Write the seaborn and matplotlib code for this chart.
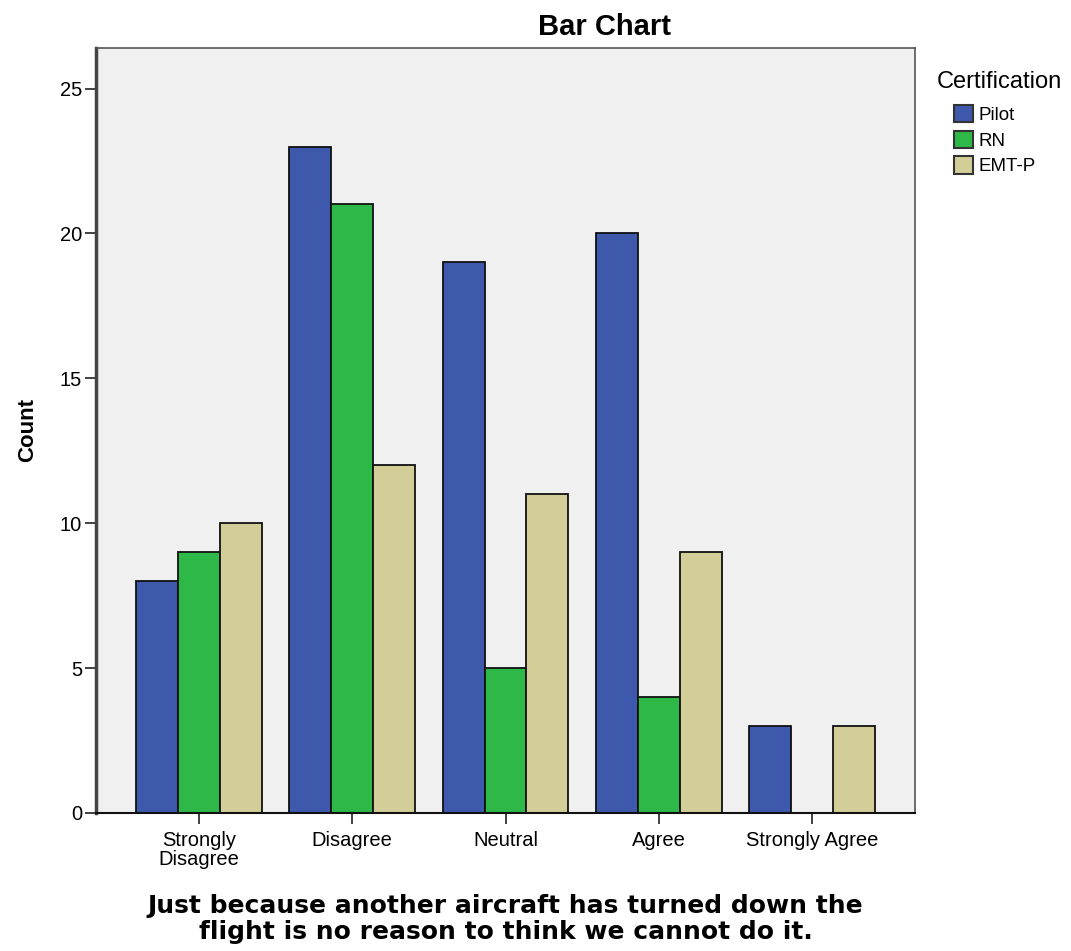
import matplotlib
matplotlib.use('Agg')
import matplotlib.pyplot as plt
import seaborn as sns
import pandas as pd

# data
responses = ['Strongly\nDisagree', 'Disagree', 'Neutral', 'Agree', 'Strongly Agree']
certifications = ['Pilot', 'RN', 'EMT-P']
pilot = [8, 23, 19, 20, 3]
rn = [9, 21, 5, 4, 0]
emt_p = [10, 12, 11, 9, 3]
colors = ['#3E58AC', '#2EB848', '#D3CE97']

df = pd.DataFrame({
    'Response': responses * 3,
    'Certification': ['Pilot'] * 5 + ['RN'] * 5 + ['EMT-P'] * 5,
    'Count': pilot + rn + emt_p,
})

sns.set_style('white')
plt.rcParams['font.family'] = ['Liberation Sans', 'DejaVu Sans']
plt.rcParams['text.color'] = 'black'
plt.rcParams['axes.labelcolor'] = 'black'
plt.rcParams['xtick.color'] = 'black'
plt.rcParams['ytick.color'] = 'black'

fig = plt.figure(figsize=(10.71, 9.51), dpi=100)
ax = fig.add_axes([96 / 1071, 1 - 813 / 951, (915 - 96) / 1071, (813 - 48) / 951])
ax.set_facecolor('#F0F0F0')

sns.barplot(data=df, x='Response', y='Count', hue='Certification',
            order=responses, hue_order=certifications, palette=colors,
            saturation=1, width=0.82, edgecolor='#111111', linewidth=1.3, ax=ax)

ax.set_xlim(-0.673, 4.673)
ax.set_ylim(0, 26.4)
ax.set_yticks([0, 5, 10, 15, 20, 25])
ax.tick_params(axis='both', direction='out', length=8, width=1.3, color='#333333',
               labelsize=14.5, bottom=True, left=True)
ax.tick_params(axis='x', pad=5)
ax.tick_params(axis='y', pad=2)
for lbl in ax.get_xticklabels():
    lbl.set_linespacing(1.02)
for s in ax.spines.values():
    s.set_color('#555555')
    s.set_linewidth(1.2)
ax.spines['left'].set_color('#444444')
ax.spines['left'].set_linewidth(2.5)
ax.spines['bottom'].set_color('#111111')
ax.spines['bottom'].set_linewidth(1.5)

ax.set_ylabel('Count', fontsize=16, fontweight='bold')
ax.yaxis.set_label_coords(-0.071, 0.5)
ax.set_xlabel('Just because another aircraft has turned down the\nflight is no reason to think we cannot do it.',
              fontsize=18, fontweight='bold', family='DejaVu Sans', linespacing=1.12)
ax.xaxis.set_label_coords(0.5, -0.106)

fig.text(604 / 1071, 1 - 27 / 951, 'Bar Chart', ha='center', va='center',
         fontsize=21, fontweight='bold')

# legend title drawn separately so the boxes sit indented under it
fig.text(937 / 1071, 1 - 88 / 951, 'Certification', ha='left', va='baseline', fontsize=17)
leg = ax.legend(loc='upper left',
                bbox_to_anchor=(954 / 1071, 1 - 105 / 951), bbox_transform=fig.transFigure,
                frameon=False, fontsize=13.5,
                handlelength=1.0, handleheight=1.05, handletextpad=0.32,
                labelspacing=0.35, borderaxespad=0, borderpad=0)
for h in leg.legend_handles:
    h.set_edgecolor('#333333')
    h.set_linewidth(1.5)

fig.savefig('out.png', dpi=100)
